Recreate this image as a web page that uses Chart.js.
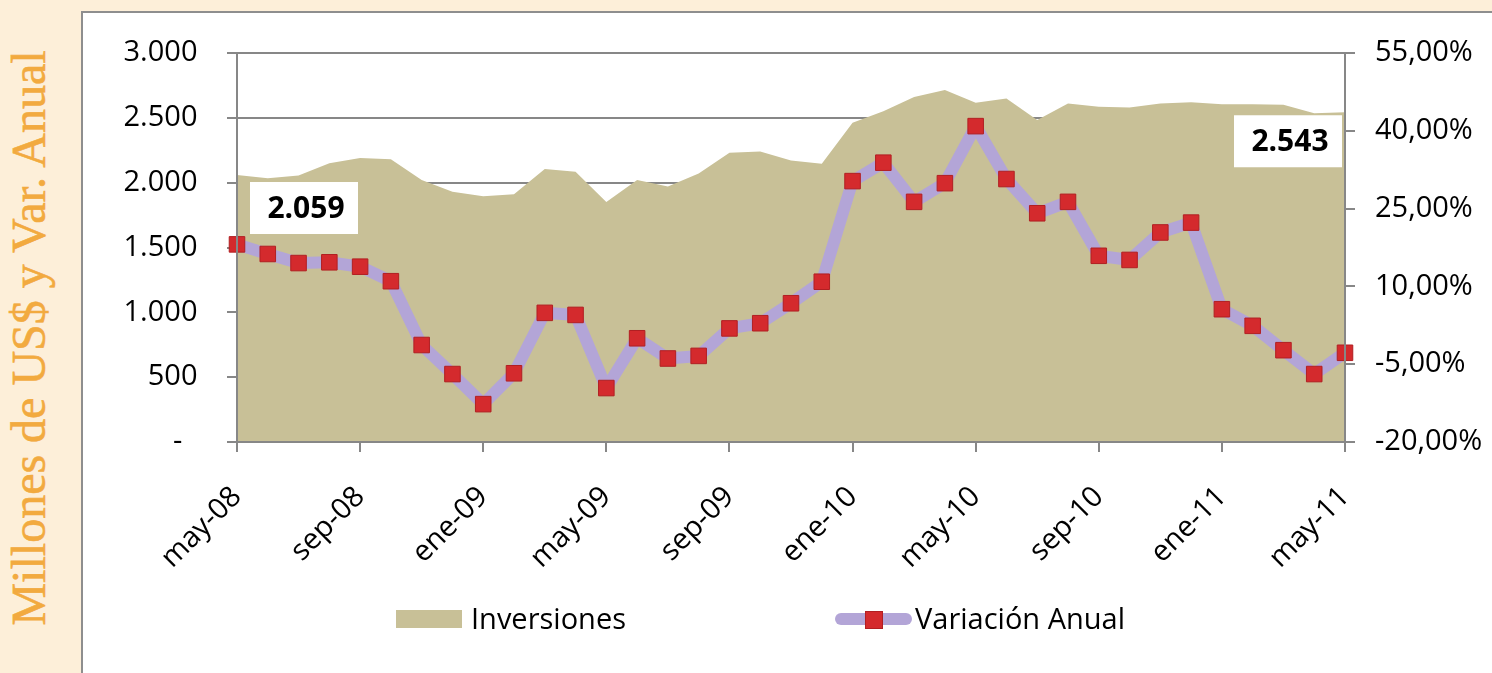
<!DOCTYPE html>
<html>
<head>
<meta charset="utf-8">
<title>Inversiones y Variación Anual</title>
<script src="https://cdn.jsdelivr.net/npm/chart.js"></script>
<style>
  html, body { margin: 0; padding: 0; }
  body {
    width: 1492px; height: 673px; overflow: hidden; position: relative;
    background: #fdefd9; font-family: 'Open Sans', sans-serif;
  }
  #side-title {
    position: absolute; left: 29px; top: 338px;
    transform: translate(-50%, -50%) rotate(-90deg);
    font-family: 'Liberation Serif', serif; font-size: 48px; line-height: 48px;
    color: #f2aa3f; -webkit-text-stroke: 0.6px #f2aa3f; white-space: nowrap;
  }
  #panel {
    position: absolute; left: 81px; top: 11px; width: 1411px; height: 662px;
    box-sizing: border-box; background: #fff;
    border-left: 2px solid #8e8e8e; border-top: 2px solid #8e8e8e;
  }
  #chart-box { position: relative; width: 1409px; height: 660px; }
  .legend-item { position: absolute; top: 603px; font-size: 29px; line-height: 29px; color: #000; white-space: nowrap; }
  .swatch-area { position: absolute; left: 396px; top: 610px; width: 66px; height: 18px; background: #c8c097; }
  .swatch-line { position: absolute; left: 835px; top: 613px; width: 77px; height: 12px; border-radius: 6px; background: #b3a5d7; }
  .swatch-mark { position: absolute; left: 865px; top: 611px; width: 16px; height: 16px; background: #d42a2d; border: 1px solid #b11f22; }
</style>
</head>
<body>
<div id="side-title">Millones de US$ y Var. Anual</div>
<div id="panel">
  <div id="chart-box"><canvas id="inversiones-chart"></canvas></div>
</div>
<div class="swatch-area"></div>
<div class="legend-item" style="left:471px">Inversiones</div>
<div class="swatch-line"></div>
<div class="swatch-mark"></div>
<div class="legend-item" style="left:915px">Variación Anual</div>

<script>
// Meses (may-08 a may-11)
const months = [
    'may-08', 'jun-08', 'jul-08', 'ago-08', 'sep-08', 'oct-08', 'nov-08', 'dic-08',
    'ene-09', 'feb-09', 'mar-09', 'abr-09', 'may-09', 'jun-09', 'jul-09', 'ago-09',
    'sep-09', 'oct-09', 'nov-09', 'dic-09', 'ene-10', 'feb-10', 'mar-10', 'abr-10',
    'may-10', 'jun-10', 'jul-10', 'ago-10', 'sep-10', 'oct-10', 'nov-10', 'dic-10',
    'ene-11', 'feb-11', 'mar-11', 'abr-11', 'may-11'
];

// Inversiones, millones de US$
const inversiones = [
    2059, 2035, 2055, 2150, 2190, 2180, 2020, 1930,
    1895, 1910, 2105, 2085, 1850, 2020, 1970, 2070,
    2230, 2240, 2170, 2145, 2463, 2550, 2660, 2715,
    2617, 2650, 2483, 2610, 2585, 2580, 2610, 2620,
    2605, 2605, 2600, 2535, 2543
];

// Variación anual, %
const variacion = [
    18.1, 16.25, 14.5, 14.65, 13.8, 11.0, -1.3, -6.9,
    -12.7, -6.75, 4.9, 4.5, -9.6, 0.0, -3.9, -3.4,
    1.9, 2.9, 6.75, 10.9, 30.3, 33.85, 26.3, 29.9,
    40.9, 30.7, 24.1, 26.3, 15.9, 15.1, 20.4, 22.3,
    5.6, 2.4, -2.3, -6.9, -2.8
];

// Ejes: [min, max, paso]
const leftAxis = [0, 3000, 500];
const rightAxis = [-20, 55, 15];
const labelEvery = 4;

const axisGray = '#878787';

function miles(v) {
    return String(v).replace(/\B(?=(\d{3})+(?!\d))/g, '.');
}

// Etiquetas con el primer y el último valor de inversiones
const valueBoxes = {
    id: 'valueBoxes',
    afterDatasetsDraw(chart) {
        const pts = chart.getDatasetMeta(0).data;
        const ctx = chart.ctx;
        const boxes = [
            { i: 0, dx: 13, dy: 7 },
            { i: pts.length - 1, dx: -111, dy: 3 }
        ];
        ctx.save();
        ctx.font = "bold 30px 'Open Sans'";
        ctx.textAlign = 'center';
        ctx.textBaseline = 'middle';
        boxes.forEach(b => {
            const p = pts[b.i];
            const x = p.x + b.dx, y = p.y + b.dy;
            ctx.fillStyle = '#fff';
            ctx.fillRect(x, y, 108, 52);
            ctx.fillStyle = '#000';
            ctx.fillText(miles(inversiones[b.i]), x + 56, y + 27);
        });
        ctx.restore();
    }
};

Chart.defaults.font.family = "'Open Sans', sans-serif";
Chart.defaults.font.size = 29;
Chart.defaults.color = '#000';

function createInversionesChart() {
    const ctx = document.getElementById('inversiones-chart').getContext('2d');
    new Chart(ctx, {
        type: 'line',
        data: {
            labels: months,
            datasets: [{
                label: 'Inversiones',
                data: inversiones,
                yAxisID: 'y',
                order: 2,
                fill: 'origin',
                backgroundColor: '#c8c097',
                borderWidth: 0,
                pointRadius: 0,
                tension: 0
            }, {
                label: 'Variación Anual',
                data: variacion,
                yAxisID: 'y1',
                order: 1,
                fill: false,
                borderColor: '#b3a5d7',
                borderWidth: 12,
                borderJoinStyle: 'round',
                borderCapStyle: 'round',
                tension: 0,
                pointStyle: 'rect',
                pointRadius: 11,
                pointBackgroundColor: '#d42a2d',
                pointBorderColor: '#b11f22',
                pointBorderWidth: 1
            }]
        },
        options: {
            responsive: true,
            maintainAspectRatio: false,
            animation: false,
            layout: { padding: { top: 40, left: 0, right: 0, bottom: 0 } },
            plugins: {
                legend: { display: false },
                tooltip: { enabled: false }
            },
            scales: {
                x: {
                    offset: false,
                    grid: {
                        drawOnChartArea: false,
                        tickLength: 10,
                        lineWidth: 2,
                        color: c => (c.index % labelEvery === 0 ? axisGray : 'rgba(0,0,0,0)')
                    },
                    border: { display: true, color: axisGray, width: 2, z: 1 },
                    ticks: {
                        autoSkip: false,
                        minRotation: 45,
                        maxRotation: 45,
                        padding: 28,
                        callback: (v, i) => (i % labelEvery === 0 ? months[i] : '')
                    },
                    afterFit: s => { s.height = 231; }
                },
                y: {
                    position: 'left',
                    min: leftAxis[0],
                    max: leftAxis[1],
                    grid: { color: axisGray, lineWidth: 2, tickLength: 10 },
                    border: { display: true, color: axisGray, width: 2, z: 1 },
                    ticks: {
                        stepSize: leftAxis[2],
                        padding: 22,
                        callback: v => (v === 0 ? '-   ' : miles(v) + ' ')
                    },
                    afterFit: s => { s.width = 154; }
                },
                y1: {
                    position: 'right',
                    min: rightAxis[0],
                    max: rightAxis[1],
                    grid: { drawOnChartArea: false, color: axisGray, lineWidth: 2, tickLength: 10 },
                    border: { display: true, color: axisGray, width: 2, z: 1 },
                    ticks: {
                        stepSize: rightAxis[2],
                        padding: 20,
                        callback: v => v.toFixed(2).replace('.', ',') + '%'
                    },
                    afterFit: s => { s.width = 147; }
                }
            }
        },
        plugins: [valueBoxes]
    });
}

createInversionesChart();
</script>
</body>
</html>
